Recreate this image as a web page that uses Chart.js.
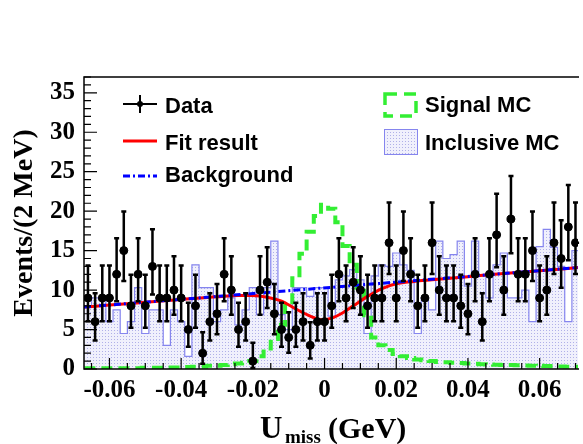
<!DOCTYPE html>
<html>
<head>
<meta charset="utf-8">
<script src="https://cdn.jsdelivr.net/npm/chart.js@4.4.1/dist/chart.umd.min.js"></script>
<style>
  html, body { margin: 0; padding: 0; background: #fff; }
  #wrap { width: 583px; height: 444px; }
</style>
</head>
<body>
<div id="wrap"><canvas id="c" width="583" height="444"></canvas></div>
<script>
// bin centres (GeV), 2 MeV bins
const binCenters = [
  -0.066, -0.064, -0.062, -0.060, -0.058, -0.056, -0.054, -0.052, -0.050, -0.048,
  -0.046, -0.044, -0.042, -0.040, -0.038, -0.036, -0.034, -0.032, -0.030, -0.028,
  -0.026, -0.024, -0.022, -0.020, -0.018, -0.016, -0.014, -0.012, -0.010, -0.008,
  -0.006, -0.004, -0.002, 0, 0.002, 0.004, 0.006, 0.008, 0.010, 0.012,
  0.014, 0.016, 0.018, 0.020, 0.022, 0.024, 0.026, 0.028, 0.030, 0.032,
  0.034, 0.036, 0.038, 0.040, 0.042, 0.044, 0.046, 0.048, 0.050, 0.052,
  0.054, 0.056, 0.058, 0.060, 0.062, 0.064, 0.066, 0.068, 0.070
];
const dataCounts = [
  9, 6, 9, 9, 12, 15, 8, 12, 8, 13,
  9, 9, 10, 9, 5, 8, 2, 6, 7, 12,
  10, 5, 6, 1, 10, 11, 7, 5, 4, 5,
  6, 3, 6, 6, 8, 12, 9, 11, 10, 8,
  9, 9, 16, 9, 15, 12, 8, 9, 16, 10,
  9, 9, 8, 7, 12, 6, 12, 17, 10, 19,
  12, 12, 15, 9, 10, 16, 14, 18, 16
];
const signalMC = [
  0.1, 0.1, 0.1, 0.1, 0.1, 0.1, 0.1, 0.1, 0.15, 0.15,
  0.15, 0.2, 0.2, 0.2, 0.25, 0.3, 0.3, 0.4, 0.4, 0.5,
  0.6, 0.7, 0.8, 1.0, 1.6, 2.6, 3.8, 5.6, 8.2, 11.5,
  14.6, 17.4, 19.4, 20.8, 20.3, 18.6, 15.6, 13.2, 10.3, 6.8,
  4.0, 3.0, 2.4, 1.9, 1.6, 1.4, 1.2, 1.1, 1.0, 0.9,
  0.85, 0.8, 0.75, 0.7, 0.65, 0.6, 0.58, 0.55, 0.52, 0.5,
  0.48, 0.45, 0.42, 0.4, 0.38, 0.35, 0.33, 0.3, 0.3
];
const inclusiveMC = [
  8, 9, 9, 6, 7.5, 4.5, 6, 10.3, 4.5, 7.5,
  7.5, 3, 7.5, 6, 1.6, 13.2, 10.3, 10.3, 6, 7.5,
  9, 5.6, 7.5, 10.3, 6.9, 10.3, 16.2, 6.9, 5, 10.3,
  10.3, 9.2, 10.3, 10.3, 6.7, 11.3, 11.8, 12.6, 11.3, 4.5,
  11.8, 13.2, 13, 14.7, 13.2, 12.5, 4.5, 9, 7.5, 16.2,
  14, 14.5, 16.2, 10.5, 16.2, 11.8, 9, 13.2, 14.7, 9,
  9, 10, 6, 15.5, 17.7, 15.4, 13, 6, 15
];
// fit result curve
const fitX = [-0.0671, -0.060, -0.050, -0.040, -0.030, -0.024, -0.020, -0.016, -0.012, -0.008,
  -0.004, -0.001, 0.002, 0.005, 0.008, 0.012, 0.016, 0.020, 0.025, 0.030, 0.040, 0.050, 0.060, 0.0707];
const fitY = [7.85, 8.1, 8.45, 8.8, 9.15, 9.3, 9.3, 9.1, 8.6, 7.6,
  6.7, 6.25, 6.45, 7.1, 8.0, 9.2, 10.2, 10.8, 11.1, 11.3, 11.7, 12.1, 12.45, 12.85];
// background (straight line)
const bkgX = [-0.0671, 0.0707];
const bkgY = [7.85, 12.85];

const xTickValues = [-0.06, -0.04, -0.02, 0, 0.02, 0.04, 0.06];
const yTickValues = [0, 5, 10, 15, 20, 25, 30, 35];

const halfBin = 0.001;
const serif = '"Liberation Serif", "Times New Roman", serif';
const sans = '"Liberation Sans", Arial, sans-serif';
const green = '#33ee33';
const incBorder = '#8585ee';

const canvas = document.getElementById('c');
const ctx = canvas.getContext('2d');

function dotPattern() {
  const p = document.createElement('canvas');
  p.width = 3; p.height = 3;
  const g = p.getContext('2d');
  g.fillStyle = '#f0f0fc';
  g.fillRect(0, 0, 3, 3);
  g.fillStyle = '#b0b0e8';
  g.fillRect(0, 0, 1, 1);
  return ctx.createPattern(p, 'repeat');
}
const incFill = dotPattern();

function steps(vals) {
  const pts = [];
  vals.forEach((v, i) => {
    pts.push({x: binCenters[i] - halfBin, y: v});
    pts.push({x: binCenters[i] + halfBin, y: v});
  });
  return pts;
}

const rootStyle = {
  id: 'rootStyle',
  afterDatasetsDraw(chart) {
    const {ctx, scales: {x, y}} = chart;
    ctx.save();
    ctx.strokeStyle = '#000';
    ctx.lineWidth = 2.5;
    dataCounts.forEach((n, i) => {
      const px = x.getPixelForValue(binCenters[i]);
      const py = y.getPixelForValue(n);
      // Poisson interval
      const up = 1 + Math.sqrt(n + 0.75);
      const lo = n > 0 ? Math.sqrt(n - 0.25) : 0;
      const yT = y.getPixelForValue(n + up);
      const yB = y.getPixelForValue(n - lo);
      ctx.beginPath();
      ctx.moveTo(px, yT); ctx.lineTo(px, yB);
      ctx.moveTo(px - 2.5, yT); ctx.lineTo(px + 2.5, yT);
      ctx.moveTo(px - 2.5, yB); ctx.lineTo(px + 2.5, yB);
      ctx.moveTo(x.getPixelForValue(binCenters[i] - halfBin), py);
      ctx.lineTo(x.getPixelForValue(binCenters[i] + halfBin), py);
      ctx.stroke();
    });
    ctx.restore();
  },
  afterDraw(chart) {
    const {ctx, chartArea: a, scales: {x, y}} = chart;
    ctx.save();
    // frame
    ctx.strokeStyle = '#000';
    ctx.lineWidth = 1.5;
    ctx.beginPath();
    ctx.moveTo(a.right + 1, a.top); ctx.lineTo(a.left, a.top);
    ctx.lineTo(a.left, a.bottom); ctx.lineTo(a.right + 1, a.bottom);
    ctx.stroke();
    // inward ticks
    ctx.lineWidth = 1.2;
    ctx.beginPath();
    for (let v = 0; v <= 37; v++) {
      const py = y.getPixelForValue(v);
      const len = v % 5 === 0 ? 13 : 7;
      ctx.moveTo(a.left, py); ctx.lineTo(a.left + len, py);
    }
    for (let k = -13; k <= 14; k++) {
      const px = x.getPixelForValue(k * 0.005);
      if (px < a.left || px > a.right) continue;
      const len = k % 4 === 0 ? 11 : 6;
      ctx.moveTo(px, a.bottom); ctx.lineTo(px, a.bottom - len);
    }
    ctx.stroke();

    // legend
    ctx.fillStyle = '#000';
    ctx.textBaseline = 'alphabetic';
    ctx.font = 'bold 22px ' + sans;
    ctx.lineWidth = 2;
    ctx.beginPath();
    ctx.moveTo(123, 104); ctx.lineTo(157, 104);
    ctx.moveTo(140, 95); ctx.lineTo(140, 113);
    ctx.stroke();
    ctx.beginPath(); ctx.arc(140, 104, 3, 0, Math.PI * 2); ctx.fill();
    ctx.fillText('Data', 165, 113);

    ctx.strokeStyle = '#ff0000';
    ctx.lineWidth = 3;
    ctx.beginPath(); ctx.moveTo(123, 141); ctx.lineTo(157, 141); ctx.stroke();
    ctx.fillText('Fit result', 165, 150);

    ctx.strokeStyle = '#0000ff';
    ctx.setLineDash([7, 3, 2, 3]);
    ctx.beginPath(); ctx.moveTo(123, 176); ctx.lineTo(157, 176); ctx.stroke();
    ctx.setLineDash([]);
    ctx.fillText('Background', 165, 182);

    ctx.strokeStyle = green;
    ctx.lineWidth = 3.5;
    ctx.setLineDash([12, 7]);
    ctx.strokeRect(385, 94, 31, 22);
    ctx.setLineDash([]);
    ctx.fillText('Signal MC', 425, 112);

    ctx.fillStyle = incFill;
    ctx.fillRect(384, 129, 33, 25);
    ctx.strokeStyle = incBorder;
    ctx.lineWidth = 1;
    ctx.strokeRect(384.5, 129.5, 33, 25);
    ctx.fillStyle = '#000';
    ctx.fillText('Inclusive MC', 425, 150);

    // x axis title with subscript
    ctx.font = 'bold 31px ' + serif;
    ctx.fillText('U', 260, 438);
    ctx.font = 'bold 19px ' + serif;
    ctx.fillText('miss', 285, 443);
    ctx.font = 'bold 30px ' + serif;
    ctx.fillText('(GeV)', 328, 438);
    ctx.restore();
  }
};

new Chart(ctx, {
  type: 'scatter',
  data: {
    datasets: [
      {
        label: 'Data',
        data: dataCounts.map((n, i) => ({x: binCenters[i], y: n})),
        pointRadius: 4,
        pointBackgroundColor: '#000',
        pointBorderColor: '#000',
        showLine: false,
        order: 0
      },
      {
        label: 'Background',
        type: 'line',
        data: bkgX.map((v, i) => ({x: v, y: bkgY[i]})),
        borderColor: '#0000ff',
        borderWidth: 3,
        borderDash: [7, 3, 2, 3],
        pointRadius: 0,
        fill: false,
        order: 1
      },
      {
        label: 'Fit result',
        type: 'line',
        data: fitX.map((v, i) => ({x: v, y: fitY[i]})),
        borderColor: '#ff0000',
        borderWidth: 3,
        cubicInterpolationMode: 'monotone',
        pointRadius: 0,
        fill: false,
        order: 2
      },
      {
        label: 'Signal MC',
        type: 'line',
        data: steps(signalMC),
        borderColor: green,
        borderWidth: 4,
        borderDash: [11, 6],
        pointRadius: 0,
        fill: false,
        order: 3
      },
      {
        label: 'Inclusive MC',
        type: 'line',
        data: steps(inclusiveMC),
        borderColor: incBorder,
        borderWidth: 1.2,
        backgroundColor: incFill,
        fill: 'origin',
        pointRadius: 0,
        order: 4
      }
    ]
  },
  options: {
    responsive: false,
    animation: false,
    layout: {padding: {top: 77, left: 0, right: 0, bottom: 0}},
    plugins: {legend: {display: false}, tooltip: {enabled: false}},
    scales: {
      x: {
        type: 'linear',
        min: -0.0671,
        max: 0.0707,
        grid: {display: false, drawTicks: false},
        border: {display: false},
        afterFit: s => { s.height = 75; },
        afterBuildTicks: s => { s.ticks = xTickValues.map(v => ({value: v})); },
        ticks: {
          autoSkip: false,
          maxRotation: 0,
          padding: 7,
          color: '#000',
          font: {family: serif, size: 25, weight: 'bold'},
          callback: v => (Math.abs(v) < 1e-9 ? '0' : v.toFixed(2))
        }
      },
      y: {
        min: 0,
        max: 37,
        grid: {display: false, drawTicks: false},
        border: {display: false},
        afterFit: s => { s.width = 84; },
        afterBuildTicks: s => { s.ticks = yTickValues.map(v => ({value: v})); },
        ticks: {
          padding: 9,
          color: '#000',
          font: {family: serif, size: 25, weight: 'bold'}
        },
        title: {
          display: true,
          text: 'Events/(2 MeV)',
          color: '#000',
          font: {family: serif, size: 28, weight: 'bold'},
          padding: {top: 8, bottom: 0}
        }
      }
    }
  },
  plugins: [rootStyle]
});
</script>
</body>
</html>
